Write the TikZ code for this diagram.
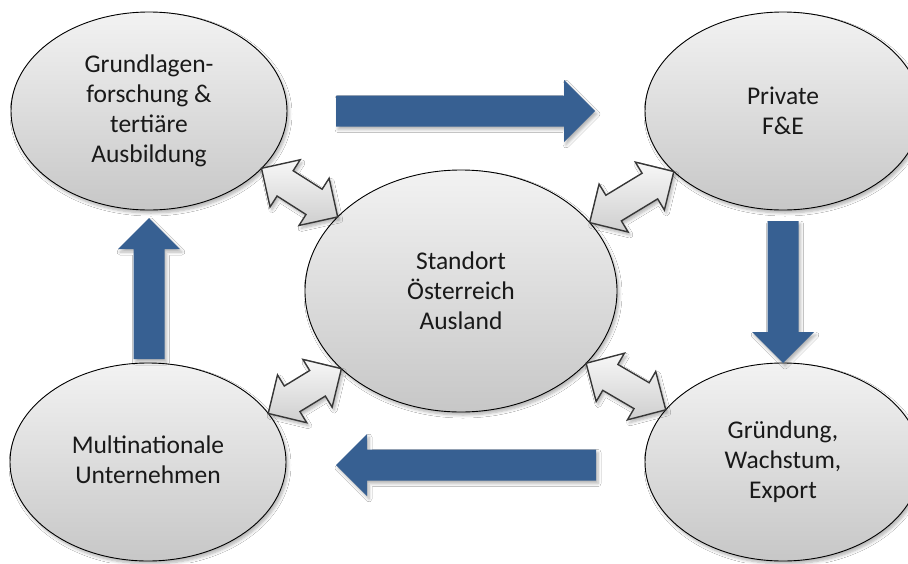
\documentclass[tikz,border=0pt]{standalone}
\usepackage{fontspec}
\setmainfont{Carlito}
\usetikzlibrary{calc,shapes.geometric,shadows.blur}
\definecolor{bluearrow}{RGB}{55,96,146}
\definecolor{txt}{RGB}{25,25,25}
\definecolor{arrowline}{RGB}{55,55,55}
\tikzset{
 softshadow/.style={blur shadow={shadow xshift=2pt, shadow yshift=-3pt, shadow blur radius=3pt, shadow blur steps=6, shadow opacity=30}},
 bubble/.style={ellipse, draw=black, line width=0.9pt, top color=gray!10, bottom color=gray!44,
   minimum width=276pt, minimum height=198pt, inner sep=0pt, outer sep=0pt, align=center,
   text=txt, font=\fontsize{25.5}{30}\selectfont, softshadow},
 centerbubble/.style={bubble, minimum width=312pt, minimum height=242pt},
 bluearrowstyle/.style={fill=bluearrow, draw=none, softshadow},
 grayarrow/.style={draw=arrowline, line width=1.4pt, line join=miter, top color=gray!6, bottom color=gray!38, softshadow}
}
% block arrow: #1 tail, #2 tip, shaft half width 15.5pt, head half width 31pt, head length 31pt
\newcommand\myblockarrow[2]{%
  \coordinate (#1-h) at ($(#2)!31pt!(#1)$);
  \draw[bluearrowstyle] ($(#1)!15.5pt!90:(#2)$) -- ($(#1-h)!15.5pt!-90:(#1)$) -- ($(#1-h)!31pt!-90:(#1)$)
    -- (#2) -- ($(#1-h)!31pt!90:(#1)$) -- ($(#1-h)!15.5pt!90:(#1)$) -- ($(#1)!15.5pt!-90:(#2)$) -- cycle;}
% double arrow between #1 and #2
\newcommand\mydblarrow[2]{%
  \coordinate (#1-b) at ($(#1)!28pt!(#2)$);
  \coordinate (#2-b) at ($(#2)!28pt!(#1)$);
  \draw[grayarrow] (#1) -- ($(#1-b)!28pt!90:(#2)$) -- ($(#1-b)!15pt!90:(#2)$)
    -- ($(#2-b)!15pt!-90:(#1)$) -- ($(#2-b)!28pt!-90:(#1)$) -- (#2)
    -- ($(#2-b)!28pt!90:(#1)$) -- ($(#2-b)!15pt!90:(#1)$)
    -- ($(#1-b)!15pt!-90:(#2)$) -- ($(#1-b)!28pt!-90:(#2)$) -- cycle;}
\begin{document}
\begin{tikzpicture}[x=1pt,y=-1pt]
\useasboundingbox (0,0) rectangle (908,563);
\clip (0,0) rectangle (908,563);
\fill[white] (0,0) rectangle (908,563);
% ellipses
\node[bubble] (tl) at (149,111) {Grundlagen-\\forschung \&\\tertiäre\\Ausbildung};
\node[bubble] (tr) at (783,111) {Private\\F\&E};
\node[bubble] (bl) at (148,462) {\raisebox{-5pt}{\begin{tabular}{@{}c@{}}Multinationale\\Unternehmen\end{tabular}}};
\node[bubble] (br) at (783,462) {\raisebox{-4pt}{\begin{tabular}{@{}c@{}}Gründung,\\Wachstum,\\Export\end{tabular}}};
\node[centerbubble] (c) at (461,291) {Standort\\Österreich\\Ausland};
% blue arrows
\coordinate (a1s) at (336,111); \coordinate (a1e) at (595,111);
\coordinate (a2s) at (783,221); \coordinate (a2e) at (783,363);
\coordinate (a3s) at (596,465); \coordinate (a3e) at (336,465);
\coordinate (a4s) at (149,359); \coordinate (a4e) at (149,218);
\myblockarrow{a1s}{a1e}
\myblockarrow{a2s}{a2e}
\myblockarrow{a3s}{a3e}
\myblockarrow{a4s}{a4e}
% gray double arrows
\coordinate (g1a) at (tl.-27); \coordinate (g1b) at (c.149);
\coordinate (g2a) at (c.28);   \coordinate (g2b) at (tr.209);
\coordinate (g3a) at (bl.22);  \coordinate (g3b) at (c.213);
\coordinate (g4a) at (c.-30);  \coordinate (g4b) at (br.156);
\mydblarrow{g1a}{g1b}
\mydblarrow{g2a}{g2b}
\mydblarrow{g3a}{g3b}
\mydblarrow{g4a}{g4b}
\end{tikzpicture}
\end{document}
